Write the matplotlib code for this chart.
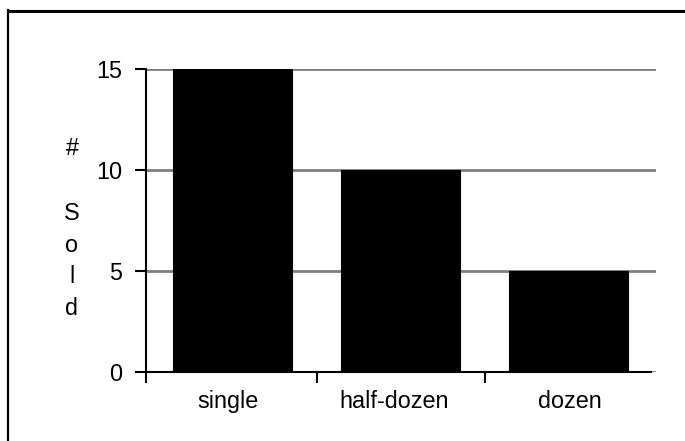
import matplotlib
matplotlib.use("Agg")
import matplotlib.pyplot as plt
from matplotlib.lines import Line2D
from matplotlib.transforms import ScaledTranslation, blended_transform_factory

categories = ["single", "half-dozen", "dozen"]
values = [15, 10, 5]
yticks = [0, 5, 10, 15]
ylabel_chars = ["#", "S", "o", "l", "d"]

W, H = 685, 441
DPI = 100
plt.rcParams['font.family'] = ['Liberation Sans', 'DejaVu Sans']
FS = 16.8

fig = plt.figure(figsize=(W / DPI, H / DPI), dpi=DPI)

def fx(px):
    return px / W

def fy(py):
    return 1 - py / H

# axes in pixel coords
left, right, top, bottom = 146, 656, 69, 372
ax = fig.add_axes([fx(left), fy(bottom), fx(right) - fx(left), fy(top) - fy(bottom)])

xmin = -(232.5 - left) / 168
xmax = 2 + (right - 568.5) / 168
xaxis_end = 2 + (651 - 568.5) / 168

ax.bar(range(len(categories)), values, width=0.708, color="black",
       edgecolor="black", linewidth=0.8, zorder=3)
ax.set_xlim(xmin, xmax)
ax.set_ylim(0, 15)

ax.set_yticks(yticks)
ax.set_yticklabels([str(v) for v in yticks])
ax.yaxis.grid(True, color="#808080", linewidth=2.0, zorder=0)
ax.set_axisbelow(True)

ax.set_xticks([])
ax.set_xticks([xmin, 0.5, 1.5], minor=True)
ax.tick_params(axis="x", which="minor", length=8, width=1.5, direction="out",
               labelbottom=False)
ax.tick_params(axis="y", which="major", length=8, width=1.5, direction="out",
               pad=9, labelsize=FS)

# category labels (slight horizontal offsets as in the reference)
label_dx = [-5, -6, 1.5]
base = blended_transform_factory(ax.transData, fig.transFigure)
for i, (cat, dx) in enumerate(zip(categories, label_dx)):
    tr = base + ScaledTranslation(dx / DPI, 0, fig.dpi_scale_trans)
    ax.text(i, fy(408), cat, transform=tr, ha="center", va="baseline",
            fontsize=FS)

for s in ["top", "right"]:
    ax.spines[s].set_visible(False)
ax.spines["left"].set_linewidth(1.5)
ax.spines["bottom"].set_linewidth(1.5)
ax.spines["bottom"].set_bounds(xmin, xaxis_end)
ax.spines["left"].set_zorder(4)
ax.spines["bottom"].set_zorder(4)

# stacked y label
baselines = [155, 220, 251.7, 283.4, 315]
for ch, b in zip(ylabel_chars, baselines):
    fig.text(fx(72), fy(b), ch, ha="center", va="baseline", fontsize=FS)

# outer frame (top and left lines)
fig.add_artist(Line2D([fx(8), fx(W + 5)], [fy(10.5), fy(10.5)],
                      transform=fig.transFigure, color="black", linewidth=2.2))
fig.add_artist(Line2D([fx(8), fx(8)], [fy(10), fy(H + 5)],
                      transform=fig.transFigure, color="black", linewidth=1.6))

fig.savefig("out.png", dpi=DPI)
